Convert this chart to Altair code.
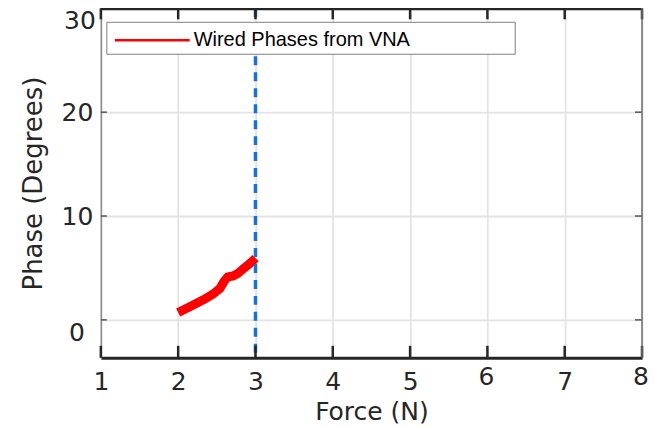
import altair as alt
import pandas as pd

# ---- data ----
force = [2.0, 2.15, 2.32, 2.45, 2.54, 2.59, 2.64, 2.71, 2.77, 2.86, 2.95, 3.0]
phase = [0.7, 1.27, 1.91, 2.48, 3.03, 3.66, 4.14, 4.23, 4.46, 5.03, 5.57, 5.95]
series_name = ["Wired Phases from VNA"]
threshold_force = [3]
x_ticks = [1, 2, 3, 4, 5, 6, 7, 8]
y_ticks = [0, 10, 20, 30]
x_domain = [1, 8]
y_domain = [-3.65, 30]

W, H = 542, 350
DARK = "#262626"
GRID = "#e3e3e3"
FONT = "DejaVu Sans"

line_df = pd.DataFrame({"force": force, "phase": phase})
thr_df = pd.DataFrame({"force": threshold_force})
xt_df = pd.DataFrame({"force": x_ticks})
yt_df = pd.DataFrame({"phase": y_ticks})
one_df = pd.DataFrame({"name": series_name})

xscale = alt.Scale(domain=x_domain, nice=False, zero=False)
yscale = alt.Scale(domain=y_domain, nice=False, zero=False)

x_axis = alt.Axis(
    values=x_ticks, grid=True, gridColor=GRID, gridWidth=1.8,
    domain=True, domainColor=DARK, domainWidth=3, ticks=False,
    labelFont=FONT, labelFontSize=25, labelColor=DARK,
    labelExpr="(datum.value == 6 || datum.value == 8) ? '' : datum.label",
    labelPadding=12, labelFlush=False, labelOverlap=False,
    title="Force (N)", titleFont=FONT, titleFontSize=25,
    titleFontWeight="normal", titleColor=DARK, titlePadding=5,
)
y_axis = alt.Axis(
    values=y_ticks, grid=True, gridColor=GRID, gridWidth=1.8,
    domain=True, domainColor="#8a8a8a", domainWidth=1.5, ticks=False,
    labelFont=FONT, labelFontSize=25, labelColor=DARK,
    labelExpr="(datum.value == 0 || datum.value == 30) ? '' : datum.label",
    labelPadding=8, labelOverlap=False,
    title="Phase (Degrees)", titleFont=FONT, titleFontSize=26,
    titleFontWeight="normal", titleColor=DARK, titlePadding=15,
)

X = alt.X("force:Q", scale=xscale, axis=x_axis)
Y = alt.Y("phase:Q", scale=yscale, axis=y_axis)

base_line = alt.Chart(line_df).mark_line(
    color="#ff0000", strokeWidth=9, strokeJoin="round", clip=True
).encode(x=X, y=Y)

thr = alt.Chart(thr_df).mark_rule(
    color="#1a6fdc", strokeWidth=3.5, strokeDash=[9, 7]
).encode(x=X)

# tick labels that sit displaced in the reference
lab30 = alt.Chart(yt_df).transform_filter("datum.phase == 30").mark_text(
    align="right", baseline="top", font=FONT, fontSize=25, color=DARK, dy=1
).encode(y=Y, x=alt.value(-5), text=alt.Text("phase:Q"))
lab0 = alt.Chart(yt_df).transform_filter("datum.phase == 0").mark_text(
    align="right", baseline="middle", font=FONT, fontSize=25, color=DARK, dy=13
).encode(y=Y, x=alt.value(-16), text=alt.Text("phase:Q"))
lab68 = alt.Chart(xt_df).transform_filter("datum.force == 6 || datum.force == 8").mark_text(
    align="center", baseline="top", font=FONT, fontSize=25, color=DARK, dy=7, dx=-1
).encode(x=X, y=alt.value(H), text=alt.Text("force:Q"))

# border lines
top_border = alt.Chart(one_df).mark_rule(color=DARK, strokeWidth=3).encode(
    x=alt.value(0), x2=alt.value(W), y=alt.value(0.5))
right_border = alt.Chart(one_df).mark_rule(color="#6e6e6e", strokeWidth=1.5).encode(
    x=alt.value(W), y=alt.value(0), y2=alt.value(H))

# inward ticks
bottom_ticks = alt.Chart(xt_df).mark_rule(color=DARK, strokeWidth=2.5).encode(
    x=X, y=alt.value(H - 12), y2=alt.value(H))
top_ticks = alt.Chart(xt_df).mark_rule(color=DARK, strokeWidth=2.5).encode(
    x=X, y=alt.value(0), y2=alt.value(11))
left_ticks = alt.Chart(yt_df).mark_rule(color="#555555", strokeWidth=1.5).encode(
    y=Y, x=alt.value(0), x2=alt.value(6))
right_ticks = alt.Chart(yt_df).mark_rule(color="#555555", strokeWidth=1.5).encode(
    y=Y, x=alt.value(W - 7), x2=alt.value(W))

# legend
leg_box = alt.Chart(one_df).mark_rect(fill="white", stroke="#7f7f7f", strokeWidth=1).encode(
    x=alt.value(6), x2=alt.value(415), y=alt.value(14), y2=alt.value(46))
leg_line = alt.Chart(one_df).mark_rule(color="#ff0000", strokeWidth=2.5).encode(
    x=alt.value(14), x2=alt.value(89), y=alt.value(32))
leg_text = alt.Chart(one_df).mark_text(
    align="left", baseline="middle", font="Liberation Sans", fontSize=20, color="black"
).encode(x=alt.value(93), y=alt.value(32), text="name:N")

chart = alt.layer(
    base_line, thr, lab30, lab0, lab68, bottom_ticks, top_ticks, left_ticks, right_ticks,
    top_border, right_border, leg_box, leg_line, leg_text,
).properties(
    width=W, height=H,
    autosize=alt.AutoSizeParams(type="none"),
    padding={"left": 93, "top": 0, "right": 10, "bottom": 70},
).configure_view(stroke=None)

chart.save("out.html", embed_options={"renderer": "svg", "actions": False})
